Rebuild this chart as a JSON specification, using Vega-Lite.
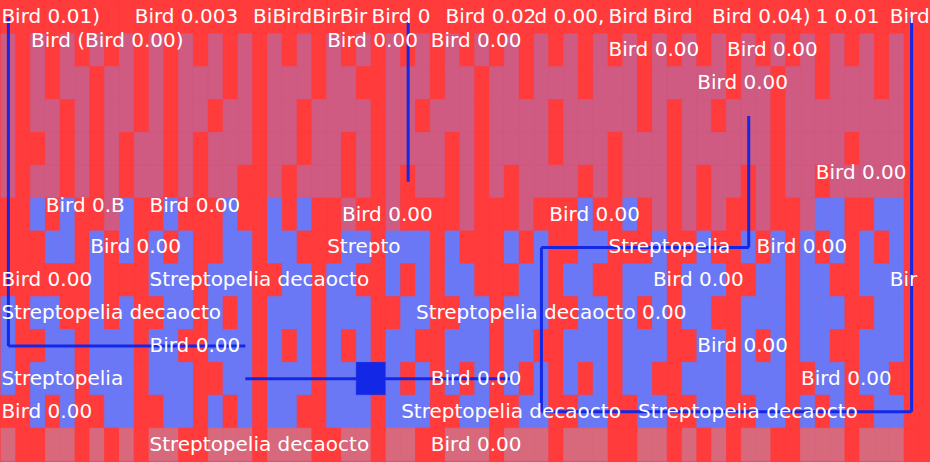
{
  "$schema": "https://vega.github.io/schema/vega-lite/v6.json",
  "width": 930,
  "height": 462,
  "autosize": {"type": "fit", "contains": "padding"},
  "padding": 0,
  "background": "#ff3b3b",
  "config": {"view": {"stroke": null}},
  "layer": [
    {
      "data": {
        "values": [
          {"col":0,"a":"R","b":"N","c":"N","d":"N","e":"N","f":"N","g":"R","h":"R","i":"R","j":"B","k":"B","l":"B","m":"R","n":"P"},
          {"col":1,"a":"R","b":"R","c":"R","d":"R","e":"R","f":"R","g":"R","h":"R","i":"R","j":"R","k":"R","l":"R","m":"R","n":"R"},
          {"col":2,"a":"R","b":"N","c":"N","d":"N","e":"R","f":"N","g":"B","h":"R","i":"R","j":"B","k":"R","l":"B","m":"B","n":"R"},
          {"col":3,"a":"R","b":"R","c":"R","d":"N","e":"N","f":"N","g":"R","h":"B","i":"R","j":"B","k":"B","l":"B","m":"R","n":"P"},
          {"col":4,"a":"R","b":"N","c":"N","d":"R","e":"R","f":"R","g":"B","h":"B","i":"R","j":"R","k":"B","l":"B","m":"B","n":"P"},
          {"col":5,"a":"R","b":"R","c":"N","d":"N","e":"N","f":"N","g":"R","h":"R","i":"R","j":"R","k":"R","l":"R","m":"R","n":"R"},
          {"col":6,"a":"R","b":"N","c":"R","d":"R","e":"R","f":"R","g":"R","h":"B","i":"B","j":"B","k":"B","l":"B","m":"R","n":"P"},
          {"col":7,"a":"R","b":"R","c":"N","d":"N","e":"N","f":"N","g":"N","h":"R","i":"R","j":"R","k":"B","l":"B","m":"B","n":"R"},
          {"col":8,"a":"R","b":"N","c":"N","d":"N","e":"R","f":"R","g":"B","h":"B","i":"R","j":"B","k":"B","l":"B","m":"B","n":"P"},
          {"col":9,"a":"R","b":"R","c":"R","d":"R","e":"N","f":"N","g":"R","h":"R","i":"R","j":"R","k":"R","l":"R","m":"R","n":"R"},
          {"col":10,"a":"R","b":"N","c":"N","d":"N","e":"N","f":"N","g":"R","h":"B","i":"B","j":"R","k":"B","l":"B","m":"R","n":"P"},
          {"col":11,"a":"R","b":"R","c":"R","d":"R","e":"R","f":"R","g":"B","h":"R","i":"B","j":"B","k":"B","l":"B","m":"B","n":"P"},
          {"col":12,"a":"R","b":"N","c":"N","d":"N","e":"N","f":"N","g":"R","h":"B","i":"B","j":"B","k":"R","l":"B","m":"B","n":"R"},
          {"col":13,"a":"R","b":"R","c":"N","d":"N","e":"R","f":"R","g":"R","h":"R","i":"R","j":"R","k":"R","l":"R","m":"R","n":"R"},
          {"col":14,"a":"R","b":"N","c":"N","d":"R","e":"N","f":"N","g":"R","h":"R","i":"B","j":"B","k":"B","l":"R","m":"B","n":"P"},
          {"col":15,"a":"R","b":"R","c":"R","d":"N","e":"N","f":"N","g":"B","h":"B","i":"B","j":"R","k":"B","l":"B","m":"R","n":"P"},
          {"col":16,"a":"R","b":"N","c":"N","d":"N","e":"N","f":"R","g":"R","h":"B","i":"B","j":"B","k":"B","l":"B","m":"B","n":"P"},
          {"col":17,"a":"R","b":"R","c":"R","d":"R","e":"R","f":"R","g":"R","h":"R","i":"R","j":"R","k":"R","l":"R","m":"R","n":"R"},
          {"col":18,"a":"R","b":"N","c":"N","d":"N","e":"N","f":"N","g":"B","h":"B","i":"R","j":"B","k":"B","l":"B","m":"B","n":"P"},
          {"col":19,"a":"R","b":"R","c":"N","d":"N","e":"N","f":"R","g":"R","h":"B","i":"B","j":"B","k":"R","l":"B","m":"B","n":"P"},
          {"col":20,"a":"R","b":"N","c":"N","d":"R","e":"R","f":"N","g":"B","h":"R","i":"B","j":"B","k":"B","l":"B","m":"R","n":"P"},
          {"col":21,"a":"R","b":"R","c":"R","d":"N","e":"N","f":"N","g":"R","h":"R","i":"R","j":"R","k":"R","l":"R","m":"R","n":"R"},
          {"col":22,"a":"R","b":"N","c":"N","d":"N","e":"N","f":"N","g":"R","h":"R","i":"B","j":"B","k":"B","l":"B","m":"B","n":"R"},
          {"col":23,"a":"R","b":"R","c":"N","d":"N","e":"R","f":"R","g":"N","h":"B","i":"B","j":"B","k":"R","l":"B","m":"B","n":"P"},
          {"col":24,"a":"R","b":"N","c":"R","d":"N","e":"N","f":"N","g":"R","h":"B","i":"R","j":"B","k":"B","l":"K","m":"B","n":"P"},
          {"col":25,"a":"R","b":"R","c":"R","d":"R","e":"R","f":"R","g":"R","h":"R","i":"R","j":"R","k":"R","l":"K","m":"R","n":"R"},
          {"col":26,"a":"R","b":"N","c":"N","d":"N","e":"N","f":"N","g":"N","h":"B","i":"B","j":"R","k":"B","l":"B","m":"B","n":"P"},
          {"col":27,"a":"R","b":"R","c":"N","d":"N","e":"N","f":"R","g":"R","h":"B","i":"R","j":"B","k":"B","l":"R","m":"B","n":"P"},
          {"col":28,"a":"R","b":"N","c":"N","d":"R","e":"N","f":"N","g":"R","h":"B","i":"B","j":"B","k":"R","l":"B","m":"B","n":"R"},
          {"col":29,"a":"R","b":"R","c":"R","d":"N","e":"N","f":"N","g":"R","h":"R","i":"R","j":"R","k":"R","l":"R","m":"R","n":"R"},
          {"col":30,"a":"R","b":"N","c":"N","d":"N","e":"R","f":"R","g":"R","h":"B","i":"B","j":"R","k":"B","l":"B","m":"R","n":"P"},
          {"col":31,"a":"R","b":"R","c":"N","d":"N","e":"N","f":"N","g":"N","h":"R","i":"B","j":"B","k":"B","l":"R","m":"B","n":"P"},
          {"col":32,"a":"R","b":"N","c":"R","d":"R","e":"R","f":"R","g":"R","h":"R","i":"R","j":"B","k":"B","l":"B","m":"B","n":"P"},
          {"col":33,"a":"R","b":"R","c":"N","d":"N","e":"N","f":"N","g":"R","h":"R","i":"R","j":"R","k":"R","l":"R","m":"R","n":"R"},
          {"col":34,"a":"R","b":"N","c":"N","d":"N","e":"N","f":"R","g":"R","h":"B","i":"R","j":"B","k":"B","l":"B","m":"R","n":"P"},
          {"col":35,"a":"R","b":"R","c":"R","d":"N","e":"N","f":"N","g":"N","h":"R","i":"B","j":"B","k":"B","l":"R","m":"B","n":"P"},
          {"col":36,"a":"R","b":"N","c":"N","d":"N","e":"N","f":"N","g":"R","h":"B","i":"B","j":"B","k":"R","l":"B","m":"B","n":"P"},
          {"col":37,"a":"R","b":"R","c":"N","d":"R","e":"R","f":"N","g":"R","h":"R","i":"R","j":"R","k":"R","l":"R","m":"R","n":"R"},
          {"col":38,"a":"R","b":"N","c":"N","d":"N","e":"N","f":"N","g":"R","h":"R","i":"B","j":"R","k":"B","l":"B","m":"R","n":"P"},
          {"col":39,"a":"R","b":"R","c":"R","d":"N","e":"N","f":"R","g":"B","h":"B","i":"B","j":"B","k":"B","l":"R","m":"B","n":"P"},
          {"col":40,"a":"R","b":"N","c":"N","d":"N","e":"N","f":"N","g":"R","h":"B","i":"R","j":"B","k":"B","l":"B","m":"B","n":"P"},
          {"col":41,"a":"R","b":"R","c":"N","d":"N","e":"R","f":"R","g":"R","h":"R","i":"R","j":"R","k":"R","l":"R","m":"R","n":"R"},
          {"col":42,"a":"R","b":"N","c":"N","d":"N","e":"N","f":"N","g":"B","h":"R","i":"B","j":"B","k":"B","l":"B","m":"R","n":"R"},
          {"col":43,"a":"R","b":"R","c":"R","d":"R","e":"N","f":"N","g":"R","h":"R","i":"B","j":"R","k":"B","l":"B","m":"B","n":"P"},
          {"col":44,"a":"R","b":"N","c":"N","d":"N","e":"N","f":"N","g":"N","h":"B","i":"B","j":"B","k":"B","l":"R","m":"B","n":"P"},
          {"col":45,"a":"R","b":"R","c":"N","d":"R","e":"R","f":"R","g":"R","h":"R","i":"R","j":"R","k":"R","l":"R","m":"R","n":"R"},
          {"col":46,"a":"R","b":"N","c":"N","d":"N","e":"N","f":"N","g":"N","h":"R","i":"B","j":"B","k":"R","l":"B","m":"R","n":"P"},
          {"col":47,"a":"R","b":"R","c":"N","d":"N","e":"N","f":"R","g":"R","h":"B","i":"B","j":"B","k":"B","l":"B","m":"B","n":"R"},
          {"col":48,"a":"R","b":"N","c":"N","d":"R","e":"N","f":"N","g":"N","h":"R","i":"B","j":"R","k":"B","l":"B","m":"B","n":"P"},
          {"col":49,"a":"R","b":"R","c":"R","d":"N","e":"N","f":"N","g":"R","h":"R","i":"R","j":"R","k":"R","l":"R","m":"R","n":"R"},
          {"col":50,"a":"R","b":"N","c":"N","d":"N","e":"N","f":"R","g":"R","h":"B","i":"R","j":"B","k":"B","l":"B","m":"R","n":"P"},
          {"col":51,"a":"R","b":"R","c":"N","d":"N","e":"N","f":"N","g":"N","h":"R","i":"B","j":"B","k":"R","l":"B","m":"B","n":"P"},
          {"col":52,"a":"R","b":"N","c":"R","d":"R","e":"R","f":"R","g":"R","h":"B","i":"B","j":"B","k":"B","l":"B","m":"B","n":"R"},
          {"col":53,"a":"R","b":"R","c":"N","d":"N","e":"N","f":"N","g":"R","h":"R","i":"R","j":"R","k":"R","l":"R","m":"R","n":"R"},
          {"col":54,"a":"R","b":"N","c":"N","d":"N","e":"N","f":"N","g":"N","h":"B","i":"B","j":"B","k":"B","l":"R","m":"B","n":"P"},
          {"col":55,"a":"R","b":"R","c":"R","d":"N","e":"N","f":"R","g":"B","h":"R","i":"B","j":"B","k":"B","l":"B","m":"R","n":"P"},
          {"col":56,"a":"R","b":"N","c":"N","d":"N","e":"N","f":"N","g":"B","h":"B","i":"R","j":"B","k":"R","l":"B","m":"B","n":"P"},
          {"col":57,"a":"R","b":"R","c":"N","d":"N","e":"R","f":"N","g":"R","h":"R","i":"R","j":"R","k":"R","l":"R","m":"R","n":"R"},
          {"col":58,"a":"R","b":"N","c":"N","d":"N","e":"N","f":"N","g":"R","h":"B","i":"B","j":"R","k":"B","l":"B","m":"R","n":"P"},
          {"col":59,"a":"R","b":"R","c":"R","d":"N","e":"N","f":"N","g":"B","h":"R","i":"B","j":"B","k":"B","l":"B","m":"B","n":"P"},
          {"col":60,"a":"R","b":"N","c":"N","d":"N","e":"N","f":"N","g":"B","h":"B","i":"B","j":"B","k":"B","l":"R","m":"B","n":"P"},
          {"col":61,"a":"R","b":"R","c":"R","d":"R","e":"R","f":"R","g":"R","h":"R","i":"R","j":"R","k":"R","l":"R","m":"R","n":"R"}
        ]
      },
      "transform": [
        {"fold": ["a","b","c","d","e","f","g","h","i","j","k","l","m","n"], "as": ["row","k"]}
      ],
      "mark": {"type": "rect", "strokeWidth": 0.8},
      "encoding": {
        "x": {"field": "col", "type": "ordinal", "axis": null, "scale": {"paddingInner": 0, "paddingOuter": 0}},
        "y": {"field": "row", "type": "ordinal", "axis": null, "scale": {"domain": ["a","b","c","d","e","f","g","h","i","j","k","l","m","n"], "paddingInner": 0, "paddingOuter": 0}},
        "color": {
          "field": "k",
          "type": "nominal",
          "legend": null,
          "scale": {"domain": ["R","N","B","P","K"], "range": ["#ff3b3b","#cf5a82","#6b78f6","#d8687c","#1228e6"]}
        },
        "stroke": {
          "field": "k",
          "type": "nominal",
          "legend": null,
          "scale": {"domain": ["R","N","B","P","K"], "range": ["#ff3b3b","#cf5a82","#6b78f6","#d8687c","#1228e6"]}
        }
      }
    },
    {
      "data": {
        "values": [
          {"col":0,"row":"a","row2":"k"},
          {"col":61,"row":"a","row2":"m"},
          {"col":27,"row":"a","row2":"f"},
          {"col":50,"row":"d","row2":"h"},
          {"col":36,"row":"h","row2":"m"}
        ]
      },
      "mark": {"type": "rule", "color": "#1228e6", "strokeWidth": 3},
      "encoding": {
        "x": {"field": "col", "type": "ordinal"},
        "y": {"field": "row", "type": "ordinal"},
        "y2": {"field": "row2"}
      }
    },
    {
      "data": {
        "values": [
          {"row":"k","col":0,"col2":16},
          {"row":"l","col":16,"col2":34},
          {"row":"m","col":36,"col2":61},
          {"row":"h","col":36,"col2":50}
        ]
      },
      "mark": {"type": "rule", "color": "#1228e6", "strokeWidth": 3},
      "encoding": {
        "x": {"field": "col", "type": "ordinal"},
        "x2": {"field": "col2"},
        "y": {"field": "row", "type": "ordinal"}
      }
    },
    {
      "data": {
        "values": [
          {"col":0,"row":"a","t":"Bird 0.01)"},
          {"col":9,"row":"a","t":"Bird 0.003"},
          {"col":17,"row":"a","t":"BiBird"},
          {"col":21,"row":"a","t":"BirBir"},
          {"col":25,"row":"a","t":"Bird 0"},
          {"col":30,"row":"a","t":"Bird 0.02"},
          {"col":36,"row":"a","t":"d 0.00,"},
          {"col":41,"row":"a","t":"Bird"},
          {"col":44,"row":"a","t":"Bird"},
          {"col":48,"row":"a","t":"Bird 0.04)"},
          {"col":55,"row":"a","t":"1 0.01"},
          {"col":60,"row":"a","t":"Bird"},
          {"col":41,"row":"b","t":"Bird 0.00"},
          {"col":49,"row":"b","t":"Bird 0.00"},
          {"col":47,"row":"c","t":"Bird 0.00"},
          {"col":23,"row":"g","t":"Bird 0.00"},
          {"col":37,"row":"g","t":"Bird 0.00"},
          {"col":6,"row":"h","t":"Bird 0.00"},
          {"col":22,"row":"h","t":"Strepto"},
          {"col":41,"row":"h","t":"Streptopelia"},
          {"col":51,"row":"h","t":"Bird 0.00"},
          {"col":0,"row":"i","t":"Bird 0.00"},
          {"col":10,"row":"i","t":"Streptopelia decaocto"},
          {"col":44,"row":"i","t":"Bird 0.00"},
          {"col":60,"row":"i","t":"Bir"},
          {"col":0,"row":"j","t":"Streptopelia decaocto"},
          {"col":28,"row":"j","t":"Streptopelia decaocto 0.00"},
          {"col":10,"row":"k","t":"Bird 0.00"},
          {"col":47,"row":"k","t":"Bird 0.00"},
          {"col":0,"row":"l","t":"Streptopelia"},
          {"col":29,"row":"l","t":"Bird 0.00"},
          {"col":54,"row":"l","t":"Bird 0.00"},
          {"col":0,"row":"m","t":"Bird 0.00"},
          {"col":27,"row":"m","t":"Streptopelia decaocto"},
          {"col":43,"row":"m","t":"Streptopelia decaocto"},
          {"col":10,"row":"n","t":"Streptopelia decaocto"},
          {"col":29,"row":"n","t":"Bird 0.00"}
        ]
      },
      "mark": {"type": "text", "align": "left", "baseline": "middle", "dx": -7, "font": "DejaVu Sans", "fontSize": 20, "color": "#ffffff"},
      "encoding": {
        "x": {"field": "col", "type": "ordinal"},
        "y": {"field": "row", "type": "ordinal"},
        "text": {"field": "t", "type": "nominal"}
      }
    },
    {
      "data": {
        "values": [
          {"col":2,"row":"a","t":"Bird (Bird 0.00)"},
          {"col":22,"row":"a","t":"Bird 0.00"},
          {"col":29,"row":"a","t":"Bird 0.00"},
          {"col":55,"row":"e","t":"Bird 0.00"},
          {"col":3,"row":"f","t":"Bird 0.B"},
          {"col":10,"row":"f","t":"Bird 0.00"}
        ]
      },
      "mark": {"type": "text", "align": "left", "baseline": "middle", "dx": -7, "dy": 24, "font": "DejaVu Sans", "fontSize": 20, "color": "#ffffff"},
      "encoding": {
        "x": {"field": "col", "type": "ordinal"},
        "y": {"field": "row", "type": "ordinal"},
        "text": {"field": "t", "type": "nominal"}
      }
    }
  ]
}
